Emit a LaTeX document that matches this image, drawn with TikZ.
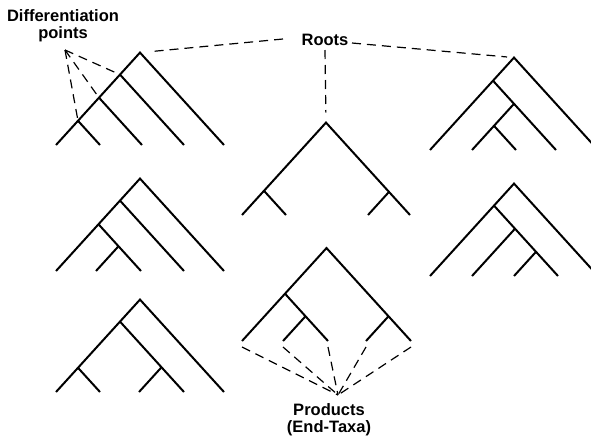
\documentclass[tikz,border=0pt]{standalone}
\usepackage{fontspec}
\setmainfont{Liberation Sans}
\begin{document}
\begin{tikzpicture}[x=1pt,y=-1pt,
  branch/.style={line width=2pt},
  guide/.style={line width=1.2pt, dash pattern=on 9pt off 6pt},
  lbl/.style={font=\bfseries\fontsize{16.5}{17}\selectfont, inner sep=0pt, anchor=base}]
\useasboundingbox (0,0) rectangle (591,437);
\clip (0,0) rectangle (591,437);

% ---------- Tree 1 (top left)
\coordinate (t1a) at (56,145);
\coordinate (t1b) at (100,145);
\coordinate (t1c) at (142,145);
\coordinate (t1d) at (184,145);
\coordinate (t1e) at (224,145);
\coordinate (t1n1) at (78,120.8);
\coordinate (t1n2) at (99,97.7);
\coordinate (t1n3) at (120,74.6);
\coordinate (t1r) at (140,52.6);
\draw[branch] (t1a) -- (t1r) -- (t1e);
\draw[branch] (t1n3) -- (t1d);
\draw[branch] (t1n2) -- (t1c);
\draw[branch] (t1n1) -- (t1b);

% ---------- Tree 2 (top middle)
\coordinate (t2a) at (242,215);
\coordinate (t2b) at (286,215);
\coordinate (t2c) at (368,215);
\coordinate (t2d) at (410,215);
\coordinate (t2n1) at (264,190.8);
\coordinate (t2n2) at (389,191.9);
\coordinate (t2r) at (326,122.6);
\draw[branch] (t2a) -- (t2r) -- (t2d);
\draw[branch] (t2n1) -- (t2b);
\draw[branch] (t2n2) -- (t2c);

% ---------- Tree 3 (top right)
\coordinate (t3a) at (430,150);
\coordinate (t3b) at (472,150);
\coordinate (t3c) at (516,150);
\coordinate (t3d) at (556,150);
\coordinate (t3e) at (598,150);
\coordinate (t3nc) at (494,125.8);
\coordinate (t3nb) at (514,103.8);
\coordinate (t3na) at (493,80.7);
\coordinate (t3r) at (514,57.6);
\draw[branch] (t3a) -- (t3r) -- (t3e);
\draw[branch] (t3na) -- (t3d);
\draw[branch] (t3nb) -- (t3b);
\draw[branch] (t3nc) -- (t3c);

% ---------- Tree 4 (middle left)
\coordinate (t4a) at (56,271);
\coordinate (t4b) at (96,271);
\coordinate (t4c) at (141,271);
\coordinate (t4d) at (184,271);
\coordinate (t4e) at (224,271);
\coordinate (t4n1) at (118.5,246.25);
\coordinate (t4n2) at (98.5,224.25);
\coordinate (t4n3) at (120,200.6);
\coordinate (t4r) at (140,178.6);
\draw[branch] (t4a) -- (t4r) -- (t4e);
\draw[branch] (t4n3) -- (t4d);
\draw[branch] (t4n2) -- (t4c);
\draw[branch] (t4n1) -- (t4b);

% ---------- Tree 5 (bottom middle)
\coordinate (t5a) at (242,341);
\coordinate (t5b) at (283,341);
\coordinate (t5c) at (328,341);
\coordinate (t5d) at (366,341);
\coordinate (t5e) at (411,341);
\coordinate (t5n1) at (305.5,316.25);
\coordinate (t5n2) at (285,293.7);
\coordinate (t5n3) at (388.5,316.25);
\coordinate (t5r) at (326.5,248.05);
\draw[branch] (t5a) -- (t5r) -- (t5e);
\draw[branch] (t5n2) -- (t5c);
\draw[branch] (t5n1) -- (t5b);
\draw[branch] (t5n3) -- (t5d);

% ---------- Tree 6 (middle right)
\coordinate (t6a) at (430,276);
\coordinate (t6b) at (472,276);
\coordinate (t6c) at (514,276);
\coordinate (t6d) at (558,276);
\coordinate (t6e) at (598,276);
\coordinate (t6nc) at (536,251.8);
\coordinate (t6nb) at (515,228.7);
\coordinate (t6na) at (494,205.6);
\coordinate (t6r) at (514,183.6);
\draw[branch] (t6a) -- (t6r) -- (t6e);
\draw[branch] (t6na) -- (t6d);
\draw[branch] (t6nb) -- (t6b);
\draw[branch] (t6nc) -- (t6c);

% ---------- Tree 7 (bottom left)
\coordinate (t7a) at (56,392);
\coordinate (t7b) at (100,392);
\coordinate (t7c) at (139,392);
\coordinate (t7d) at (184,392);
\coordinate (t7e) at (224,392);
\coordinate (t7n1) at (78,367.8);
\coordinate (t7n2) at (161.5,367.25);
\coordinate (t7n3) at (120,321.6);
\coordinate (t7r) at (140,299.6);
\draw[branch] (t7a) -- (t7r) -- (t7e);
\draw[branch] (t7n3) -- (t7d);
\draw[branch] (t7n1) -- (t7b);
\draw[branch] (t7n2) -- (t7c);

% ---------- Labels
\node[lbl, align=center, anchor=north, font=\bfseries\fontsize{16.5}{16.5}\selectfont]
  (diff) at (63,9.5) {Differentiation\\points};
\node[lbl] (roots) at (325,45) {Roots};
\node[lbl, align=center, anchor=north, font=\bfseries\fontsize{16.5}{17.5}\selectfont]
  (prod) at (329,403) {Products\\(End-Taxa)};

% ---------- Dashed guides
\coordinate (dpt) at (65,50);
\draw[guide] (dpt) -- (t1n1);
\draw[guide] (dpt) -- (t1n2);
\draw[guide] (dpt) -- (t1n3);

\coordinate (rL) at (283,39);
\coordinate (rR) at (352,43);
\coordinate (rB) at (325,50);
\draw[guide,shorten >=9pt] (rL) -- (t1r);
\draw[guide,shorten >=7pt] (rR) -- (t3r);
\draw[guide,shorten >=10pt] (rB) -- (t2r);

\coordinate (ppt) at (338,395);
\draw[guide] ([yshift=-6pt]t5a) -- (ppt);
\draw[guide] ([yshift=-6pt]t5b) -- (ppt);
\draw[guide] ([yshift=-6pt]t5c) -- (ppt);
\draw[guide] ([yshift=-6pt]t5d) -- (ppt);
\draw[guide] ([yshift=-6pt]t5e) -- (ppt);
\end{tikzpicture}
\end{document}
